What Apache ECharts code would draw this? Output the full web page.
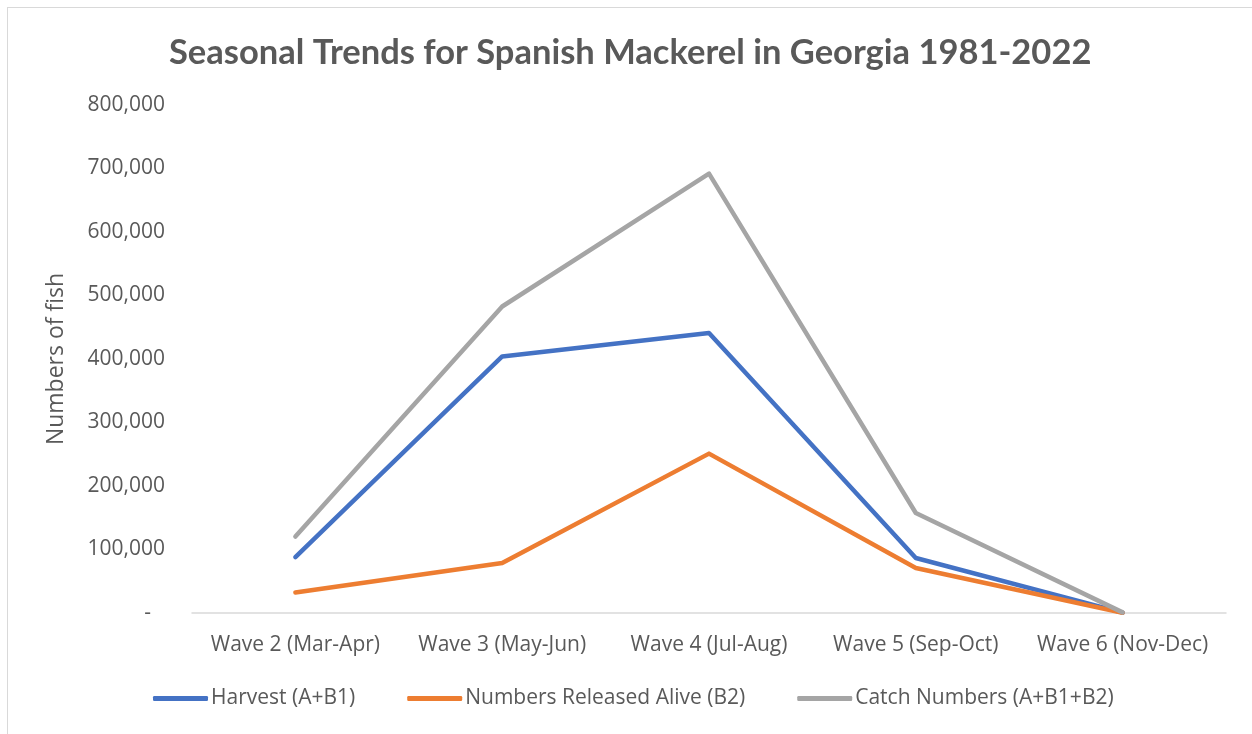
<!DOCTYPE html>
<html>
<head>
<meta charset="utf-8">
<script src="https://cdn.jsdelivr.net/npm/echarts@6/dist/echarts.min.js"></script>
<style>
    html, body { margin: 0; padding: 0; background: #fff; }
    #frame { position: absolute; left: 7px; top: 7px; width: 1260px; height: 740px; border-left: 1px solid #d9d9d9; border-top: 1px solid #d9d9d9; }
    #chart { position: absolute; left: 0; top: 0; width: 1252px; height: 734px; }
</style>
</head>
<body>
<div id="frame"></div>
<div id="chart"></div>
<script>
// seasonal catch estimates
let waves = ['Wave 2 (Mar-Apr)', 'Wave 3 (May-Jun)', 'Wave 4 (Jul-Aug)', 'Wave 5 (Sep-Oct)', 'Wave 6 (Nov-Dec)'];
let harvest = [88000, 404000, 441000, 86600, 600];
let released = [32400, 78700, 251000, 70900, 400];
let catch_numbers = [120400, 482700, 692000, 157500, 1000];

let text_color = '#595959';
let font = "'Open Sans', sans-serif";

function fmt(v) {
    if (v === 0) {
        return '{z|-}';
    }
    return v.toLocaleString('en-US');
}

function line(name, data, color) {
    return {
        name: name,
        type: 'line',
        data: data,
        symbol: 'none',
        lineStyle: { color: color, width: 4.5, cap: 'round', join: 'round' },
        itemStyle: { color: color }
    }
}

let myChart = echarts.init(document.getElementById('chart'), null, { renderer: 'canvas' });
myChart.setOption({
    backgroundColor: 'transparent',
    animation: false,
    title: {
        text: 'Seasonal Trends for Spanish Mackerel in Georgia 1981-2022',
        left: 164,
        top: 30,
        textStyle: { fontFamily: 'Lato, sans-serif', fontWeight: 'bold', fontSize: 34.5, color: text_color }
    },
    legend: {
        bottom: 20,
        left: 148,
        itemWidth: 55,
        itemHeight: 5,
        itemGap: 52,
        icon: 'roundRect',
        textStyle: { fontFamily: font, fontSize: 21, color: text_color, padding: [0, 0, 0, -2] },
        data: ['Harvest (A+B1)', 'Numbers Released Alive (B2)', 'Catch Numbers (A+B1+B2)']
    },
    grid: { left: 192, right: 26, top: 105, bottom: 121, containLabel: false },
    xAxis: {
        type: 'category',
        data: waves,
        boundaryGap: true,
        axisLine: { lineStyle: { color: '#d9d9d9', width: 1.5 } },
        axisTick: { show: false },
        axisLabel: { interval: 0, fontFamily: font, fontSize: 21, color: text_color, margin: 22 }
    },
    yAxis: {
        type: 'value',
        min: 0,
        max: 800000,
        interval: 100000,
        name: 'Numbers of fish',
        nameLocation: 'middle',
        nameGap: 124,
        nameTextStyle: { fontFamily: font, fontSize: 23, color: text_color },
        axisLine: { show: false },
        axisTick: { show: false },
        splitLine: { show: false },
        axisLabel: {
            fontFamily: font, fontSize: 21, color: text_color, margin: 27,
            formatter: fmt,
            rich: { z: { fontFamily: font, fontSize: 21, color: text_color, padding: [0, 14, 0, 0] } }
        }
    },
    series: [
        line('Harvest (A+B1)', harvest, '#4472c4'),
        line('Numbers Released Alive (B2)', released, '#ed7d31'),
        line('Catch Numbers (A+B1+B2)', catch_numbers, '#a5a5a5')
    ]
});
</script>
</body>
</html>
